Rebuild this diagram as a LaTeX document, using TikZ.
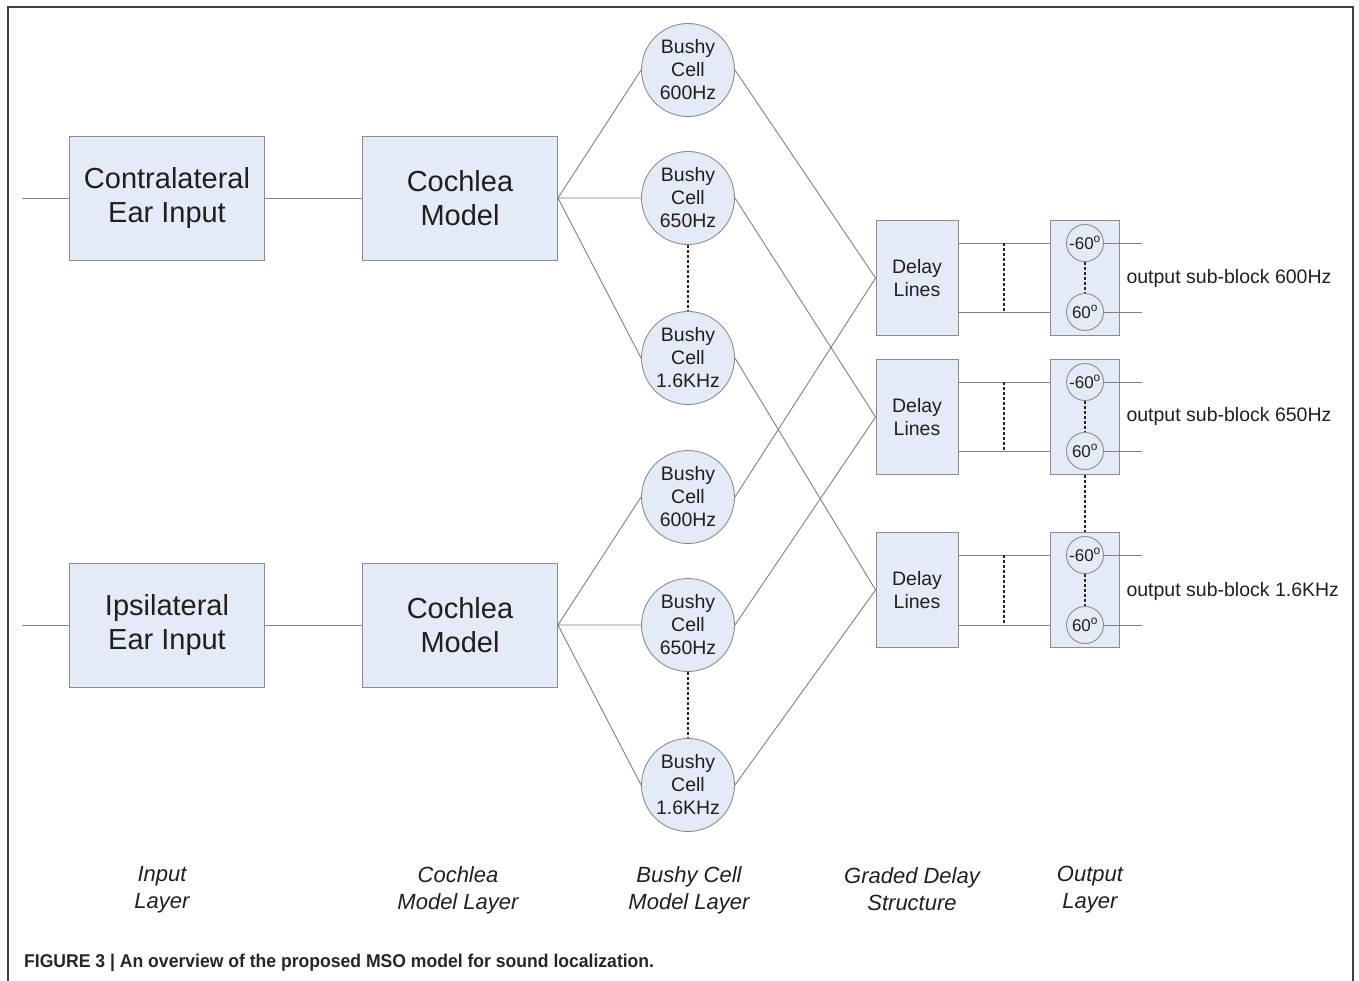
\documentclass[tikz,border=0pt]{standalone}
\usepackage{fontspec}
\usetikzlibrary{calc}
\setmainfont{Liberation Sans}
\newfontfamily\capfont[FakeStretch=0.95]{Liberation Sans}
\begin{document}
\begin{tikzpicture}[x=1pt,y=-1pt,
  linec/.style={draw=black!50, line width=0.9pt},
  blk/.style={draw=black!45, fill=boxfill, line width=0.9pt, inner sep=0pt, align=center, text=black!88},
  bigbox/.style={blk, minimum width=195pt, minimum height=124pt, font=\fontsize{29}{34}\selectfont},
  bushy/.style={blk, circle, minimum size=93pt, font=\fontsize{19.5}{23}\selectfont},
  delaybox/.style={blk, minimum width=82pt, minimum height=115pt, font=\fontsize{19.5}{23}\selectfont},
  outbox/.style={blk, minimum width=69pt, minimum height=115pt},
  deg/.style={blk, circle, minimum size=37pt, font=\fontsize{17}{18}\selectfont},
  dotl/.style={draw=black!85, line width=2pt, dash pattern=on 3pt off 2pt},
  lbl/.style={font=\fontsize{19.5}{23}\selectfont, anchor=west, text=black!88},
  layer/.style={font=\fontsize{22}{27}\selectfont\itshape, align=center, text=black!88}
]
\definecolor{boxfill}{RGB}{228,234,246}
\useasboundingbox (0,0) rectangle (1359,980);
\draw[draw=black!75, line width=2pt] (8,981) -- (8,7) -- (1353,7) -- (1353,981);

% input and cochlea
\node[bigbox] (ci) at (167,198) {Contralateral\\Ear Input};
\node[bigbox] (ii) at (167,625) {Ipsilateral\\Ear Input};
\node[bigbox] (cc1) at (460,198) {Cochlea\\Model};
\node[bigbox] (cc2) at (460,625) {Cochlea\\Model};
\coordinate (in1) at (22,198);
\coordinate (in2) at (22,625);
\draw[linec] (in1) -- (ci.west) (ci.east) -- (cc1.west);
\draw[linec] (in2) -- (ii.west) (ii.east) -- (cc2.west);

% bushy cells
\node[bushy] (b1a) at (688,70) {Bushy\\Cell\\600Hz};
\node[bushy] (b1b) at (688,198) {Bushy\\Cell\\650Hz};
\node[bushy] (b1c) at (688,358) {Bushy\\Cell\\1.6KHz};
\node[bushy] (b2a) at (688,497) {Bushy\\Cell\\600Hz};
\node[bushy] (b2b) at (688,625) {Bushy\\Cell\\650Hz};
\node[bushy] (b2c) at (688,785) {Bushy\\Cell\\1.6KHz};
\draw[linec] (cc1.east) -- (b1a.west) (cc1.east) -- (b1b.west) (cc1.east) -- (b1c.west);
\draw[linec] (cc2.east) -- (b2a.west) (cc2.east) -- (b2b.west) (cc2.east) -- (b2c.west);
\draw[dotl] (b1b.south) -- (b1c.north);
\draw[dotl] (b2b.south) -- (b2c.north);

% delay lines
\node[delaybox] (d1) at (917,278) {Delay\\Lines};
\node[delaybox] (d2) at (917,417) {Delay\\Lines};
\node[delaybox] (d3) at (917,590) {Delay\\Lines};
\draw[linec] (b1a.east) -- (d1.west) (b2a.east) -- (d1.west);
\draw[linec] (b1b.east) -- (d2.west) (b2b.east) -- (d2.west);
\draw[linec] (b1c.east) -- (d3.west) (b2c.east) -- (d3.west);

% output blocks
\node[outbox] (o1) at (1085,278) {};
\node[outbox] (o2) at (1085,417) {};
\node[outbox] (o3) at (1085,590) {};
\node[deg] (o1t) at (1085,243) {-60\textsuperscript{o}};
\node[deg] (o1b) at (1085,312) {60\textsuperscript{o}};
\node[deg] (o2t) at (1085,382) {-60\textsuperscript{o}};
\node[deg] (o2b) at (1085,451) {60\textsuperscript{o}};
\node[deg] (o3t) at (1085,555) {-60\textsuperscript{o}};
\node[deg] (o3b) at (1085,625) {60\textsuperscript{o}};
\coordinate (rr) at (1142,0);

\foreach \d/\o in {d1/o1, d2/o2, d3/o3} {
  \draw[linec] (\d.east |- \o t) -- (\o.west |- \o t);
  \draw[linec] (\d.east |- \o b) -- (\o.west |- \o b);
  \draw[linec] (\o t.east) -- (rr |- \o t.east);
  \draw[linec] (\o b.east) -- (rr |- \o b.east);
  \draw[dotl] ($(\d.east |- \o t)!0.5!(\o.west |- \o t)$) -- ($(\d.east |- \o b)!0.5!(\o.west |- \o b)$);
  \draw[dotl] (\o t.south) -- (\o b.north);
}
\draw[dotl] (o2.south) -- (o3.north);

\node[lbl] (l1) at (1123,278) {output sub-block 600Hz};
\node[lbl] (l2) at (1123,416) {output sub-block 650Hz};
\node[lbl] (l3) at (1123,591) {output sub-block 1.6KHz};

% layer labels
\node[layer] (t1) at (162,890) {Input\\Layer};
\node[layer] (t2) at (458,890) {Cochlea\\Model Layer};
\node[layer] (t3) at (689,890) {Bushy Cell\\Model Layer};
\node[layer] (t4) at (912,889) {Graded Delay\\Structure};
\node[layer] (t5) at (1090,890) {Output\\Layer};

\node[anchor=west, font=\capfont\bfseries\fontsize{18.5}{20}\selectfont, text=black!85, inner sep=0pt] (cap) at (24,963) {FIGURE 3 | An overview of the proposed MSO model for sound localization.};
\end{tikzpicture}
\end{document}
